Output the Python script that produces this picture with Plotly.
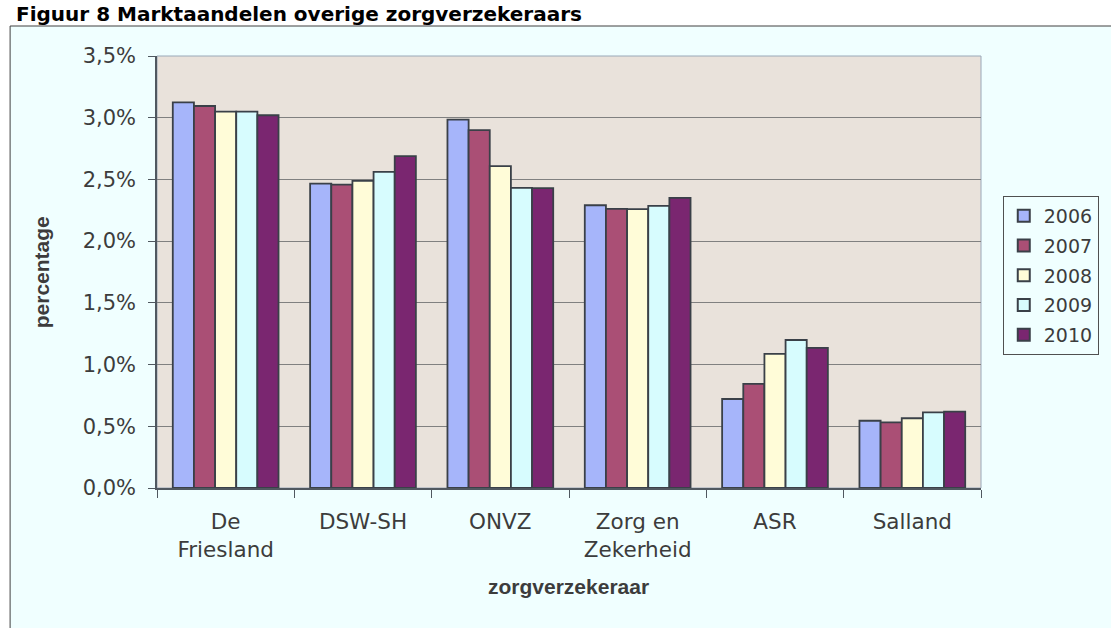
import plotly.graph_objects as go

categories = ["De<br>Friesland", "DSW-SH", "ONVZ", "Zorg en<br>Zekerheid", "ASR", "Salland"]
years = ["2006", "2007", "2008", "2009", "2010"]
v2006 = [3.125, 2.466, 2.985, 2.291, 0.721, 0.545]
v2007 = [3.095, 2.458, 2.900, 2.261, 0.843, 0.532]
v2008 = [3.050, 2.488, 2.607, 2.260, 1.086, 0.565]
v2009 = [3.050, 2.561, 2.431, 2.285, 1.199, 0.613]
v2010 = [3.020, 2.688, 2.430, 2.350, 1.135, 0.618]
series = [v2006, v2007, v2008, v2009, v2010]
colors = ["#A6B5FA", "#AA4F75", "#FFFCD8", "#D7FCFE", "#7A2670"]
ytickvals = [0, 0.5, 1.0, 1.5, 2.0, 2.5, 3.0, 3.5]
yticktext = ["0,0%", "0,5%", "1,0%", "1,5%", "2,0%", "2,5%", "3,0%", "3,5%"]

W, H = 1111, 628
L, R, T, B = 157, 990, 56, 488
pw, ph = R - L, B - T

def px(x):
    return (x - L) / pw

def py(y):
    return (B - y) / ph

fig = go.Figure()
for name, vals, col in zip(years, series, colors):
    fig.add_trace(go.Bar(
        x=categories, y=vals, name=name, legendgroup=name,
        marker=dict(color=col, line=dict(color="#3A4048", width=1.8)),
    ))

fig.update_layout(
    width=W, height=H,
    margin=dict(l=L, r=W - R, t=T, b=H - B, pad=0),
    paper_bgcolor="white",
    plot_bgcolor="rgba(0,0,0,0)",
    barmode="group", bargap=0.23, bargroupgap=0,
    font=dict(family="DejaVu Sans", color="#3C3C3C"),
    showlegend=True,
    legend=dict(
        x=px(1012), y=py(196), xanchor="left", yanchor="top",
        bgcolor="#F0FFFF", bordercolor="#505050", borderwidth=1,
        font=dict(family="DejaVu Sans", size=19, color="#3C3C3C"),
        tracegroupgap=2, itemsizing="constant",
    ),
    shapes=[
        dict(type="rect", xref="paper", yref="paper",
             x0=px(8.5), x1=px(1125), y0=py(640), y1=py(26),
             fillcolor="#F0FFFF", line=dict(color="#404040", width=1), layer="below"),
        dict(type="rect", xref="paper", yref="paper",
             x0=0, x1=1, y0=0, y1=1,
             fillcolor="#E9E2DB", line=dict(color="#9AA8B8", width=1), layer="below"),
    ],
    annotations=[
        dict(text="<b>Figuur 8 Marktaandelen overige zorgverzekeraars</b>",
             xref="paper", yref="paper", x=px(12), y=py(0),
             xanchor="left", yanchor="top", showarrow=False,
             font=dict(family="DejaVu Sans", size=20, color="black")),
        dict(text="<b>percentage</b>", xref="paper", yref="paper",
             x=px(40), y=py(272), xanchor="center", yanchor="middle",
             textangle=-90, showarrow=False,
             font=dict(family="Liberation Sans", size=21, color="#3C3C3C")),
        dict(text="<b>zorgverzekeraar</b>", xref="paper", yref="paper",
             x=px(573), y=py(586), xanchor="center", yanchor="middle",
             showarrow=False,
             font=dict(family="Liberation Sans", size=21, color="#3C3C3C")),
    ],
)

fig.update_yaxes(
    range=[0, 3.5], tickvals=ytickvals, ticktext=yticktext,
    showgrid=True, gridcolor="#808080", gridwidth=1,
    showline=True, linecolor="#505860", linewidth=1.5,
    ticks="outside", ticklen=7, tickcolor="#505860",
    tickfont=dict(family="DejaVu Sans", size=21, color="#3C3C3C"),
    ticklabelstandoff=8, zeroline=False,
)
fig.update_xaxes(
    showline=True, linecolor="#505860", linewidth=1.5,
    ticks="outside", ticklen=8, tickcolor="#505860", tickson="boundaries",
    tickfont=dict(family="DejaVu Sans", size=21.5, color="#3C3C3C"),
    ticklabelstandoff=13,
)

fig.write_html(
    "out.html",
    config={"displayModeBar": False},
    post_script="document.body.style.margin='0';document.body.style.overflow='hidden';",
)
